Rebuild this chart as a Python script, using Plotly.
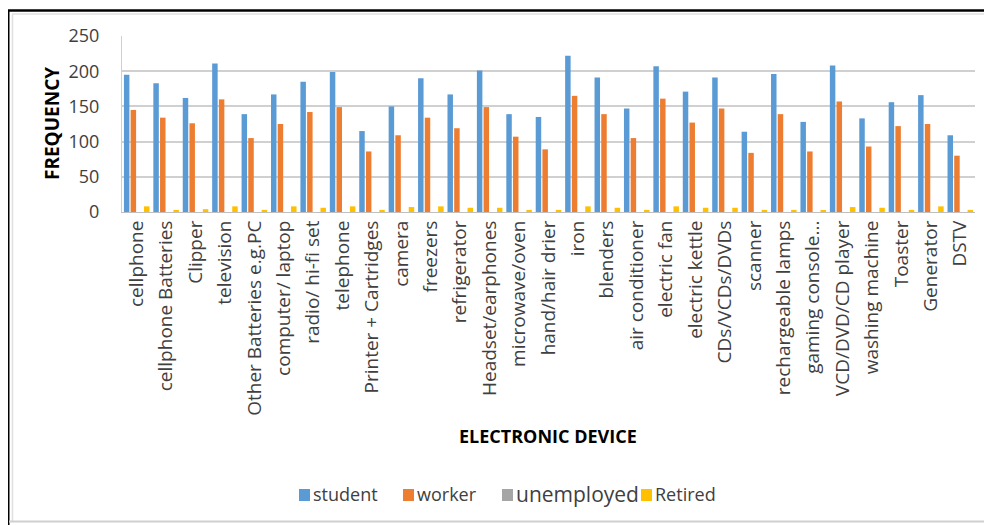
import plotly.graph_objects as go

# categories on the x axis
devices = ['cellphone', 'cellphone Batteries', 'Clipper', 'television', 'Other Batteries e.g.PC',
           'computer/ laptop', 'radio/ hi-fi set', 'telephone', 'Printer + Cartridges', 'camera',
           'freezers', 'refrigerator', 'Headset/earphones', 'microwave/oven', 'hand/hair drier',
           'iron', 'blenders', 'air conditioner', 'electric fan', 'electric kettle',
           'CDs/VCDs/DVDs', 'scanner', 'rechargeable lamps', 'gaming console...', 'VCD/DVD/CD player',
           'washing machine', 'Toaster', 'Generator', 'DSTV']

student = [195, 183, 162, 211, 139, 167, 185, 199, 115, 150,
           190, 167, 201, 139, 135, 222, 191, 147, 207, 171,
           191, 114, 196, 128, 208, 133, 156, 166, 109]
worker = [145, 134, 126, 160, 105, 125, 142, 149, 86, 109,
          134, 119, 149, 107, 89, 165, 139, 105, 161, 127,
          147, 84, 139, 86, 157, 93, 122, 125, 80]
unemployed = [0] * 29
retired = [8, 3, 4, 8, 3, 8, 6, 8, 3, 7,
           8, 6, 6, 3, 3, 8, 6, 3, 8, 6,
           6, 3, 3, 2, 7, 6, 3, 8, 3]

series = [('student', student, '#5B9BD5'),
          ('worker', worker, '#ED7D31'),
          ('unemployed', unemployed, '#A5A5A5'),
          ('Retired', retired, '#FFC000')]

FONT = 'Open Sans'

fig = go.Figure()
for name, vals, col in series:
    fig.add_trace(go.Bar(x=devices, y=vals, name=name, marker_color=col, marker_line_width=0))

# the page body adds 8px on top/left, so the figure is 8px smaller
OFF = 8
W, H = 992 - OFF, 525 - OFF
# plot area on screen: x 122..975, y 36..212
L, T = 122 - OFF, 36 - OFF
R = 992 - 975
B = 525 - 212
pw, ph = W - L - R, H - T - B

def px(x):
    return (x - OFF - L) / pw

def py(y):
    return (T + ph - (y - OFF)) / ph

fig.update_layout(
    width=W, height=H,
    margin=dict(l=L, r=R, t=T, b=B, autoexpand=False),
    paper_bgcolor='white', plot_bgcolor='white',
    barmode='group', bargap=0.09, bargroupgap=0.18,
    font=dict(family=FONT, color='#404040'),
    showlegend=False,
)
fig.update_xaxes(tickangle=-90, tickfont=dict(size=19, color='#404040'), showgrid=False,
                 showline=True, linecolor='#bfbfbf', linewidth=1, ticks='', automargin=False)
fig.update_yaxes(range=[0, 250], dtick=50, tickfont=dict(size=18, color='#404040'),
                 showgrid=True, gridcolor='#d0d0d0', gridwidth=1.5, zeroline=False,
                 showline=True, linecolor='#d0d0d0', ticklabelstandoff=18, automargin=False)

fig.add_annotation(text='<b>FREQUENCY</b>', xref='paper', yref='paper', x=px(52), y=py(124),
                   xanchor='center', yanchor='middle',
                   textangle=-90, showarrow=False, font=dict(size=19, color='#000000'))
fig.add_annotation(text='<b>ELECTRONIC DEVICE</b>', xref='paper', yref='paper', x=px(548), y=py(436),
                   xanchor='center', yanchor='middle',
                   showarrow=False, font=dict(size=18, color='#000000'))

# legend drawn by hand: small square right before the label
legend_x = [299, 403, 502, 641]
legend_size = [18, 18, 21, 18]
for (name, vals, col), lx, fs in zip(series, legend_x, legend_size):
    fig.add_shape(type='rect', xref='paper', yref='paper', x0=px(lx), x1=px(lx + 11),
                  y0=py(501), y1=py(489), fillcolor=col, line_width=0)
    fig.add_annotation(text=name, xref='paper', yref='paper', x=px(lx + 12), y=py(494),
                       xanchor='left', yanchor='middle', showarrow=False,
                       font=dict(size=fs, color='#404040'))

# outer frame
fig.add_shape(type='line', xref='paper', yref='paper', x0=px(7), x1=px(992), y0=py(10.5), y1=py(10.5),
              line=dict(color='black', width=2.5))
fig.add_shape(type='line', xref='paper', yref='paper', x0=px(8), x1=px(8), y0=py(10), y1=py(525),
              line=dict(color='black', width=3))
fig.add_shape(type='line', xref='paper', yref='paper', x0=px(12), x1=px(992), y0=py(14), y1=py(14),
              line=dict(color='#e0e0e0', width=1.5))
fig.add_shape(type='line', xref='paper', yref='paper', x0=px(12.5), x1=px(12.5), y0=py(14), y1=py(521),
              line=dict(color='#e0e0e0', width=1.5))
fig.add_shape(type='line', xref='paper', yref='paper', x0=px(9), x1=px(992), y0=py(521.5), y1=py(521.5),
              line=dict(color='#cfcfcf', width=2))

fig.write_html("out.html")
